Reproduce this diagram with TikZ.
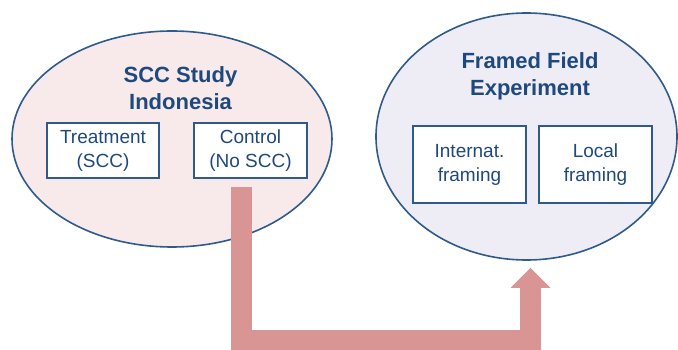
\documentclass[tikz,border=0pt]{standalone}
\usepackage{fontspec}
\setmainfont{Liberation Sans}
\usetikzlibrary{shapes.geometric,arrows.meta,calc}
\definecolor{navy}{HTML}{1F497D}
\definecolor{edgeblue}{HTML}{2F5A8C}
\definecolor{pinkfill}{HTML}{F8EAEA}
\definecolor{lavfill}{HTML}{EEEDF5}
\definecolor{arrowc}{HTML}{D99594}
\begin{document}
\begin{tikzpicture}[x=1pt,y=-1pt,
  oval/.style={ellipse,draw=edgeblue,line width=1.6pt,inner sep=0pt},
  titletext/.style={font=\bfseries\fontsize{22}{27}\selectfont,text=navy,align=center,inner sep=0pt},
  groupbox/.style={draw=edgeblue,line width=1.8pt,fill=white,align=center,
    font=\fontsize{19}{24}\selectfont,text=navy,inner sep=0pt},
  flow/.style={draw=arrowc,line width=21pt,
    -{Triangle[width=40pt,length=20pt,line width=0pt,fill=arrowc]}}]
\useasboundingbox (0,0) rectangle (678,350);
\node[oval,fill=pinkfill,minimum width=320pt,minimum height=216pt] (scc) at (172,139) {};
\node[oval,fill=lavfill,minimum width=301pt,minimum height=247pt] (ffe) at (526.5,136.5) {};
\node[titletext] (scct) at (180.5,88) {SCC Study\\Indonesia};
\node[titletext] (ffet) at (530,76.5) {Framed Field\\Experiment};
\node[groupbox,minimum width=112pt,minimum height=55pt] (treat) at (103,150.5) {Treatment\\(SCC)};
\node[groupbox,minimum width=113pt,minimum height=55pt] (control) at (250.5,150.5) {Control\\(No SCC)};
\node[groupbox,minimum width=113pt,minimum height=77pt] (intl) at (469.5,164.5) {Internat.\\framing};
\node[groupbox,minimum width=113pt,minimum height=77pt] (local) at (595.5,164.5) {Local\\framing};
\coordinate (a0) at ($(control.south)+(-9,8)$);
\coordinate (a1) at ($(ffe.south)+(4,7)$);
\coordinate (low) at (0,340);
\draw[flow] (a0) -- (a0 |- low) -- (a1 |- low) -- (a1);
\end{tikzpicture}
\end{document}
